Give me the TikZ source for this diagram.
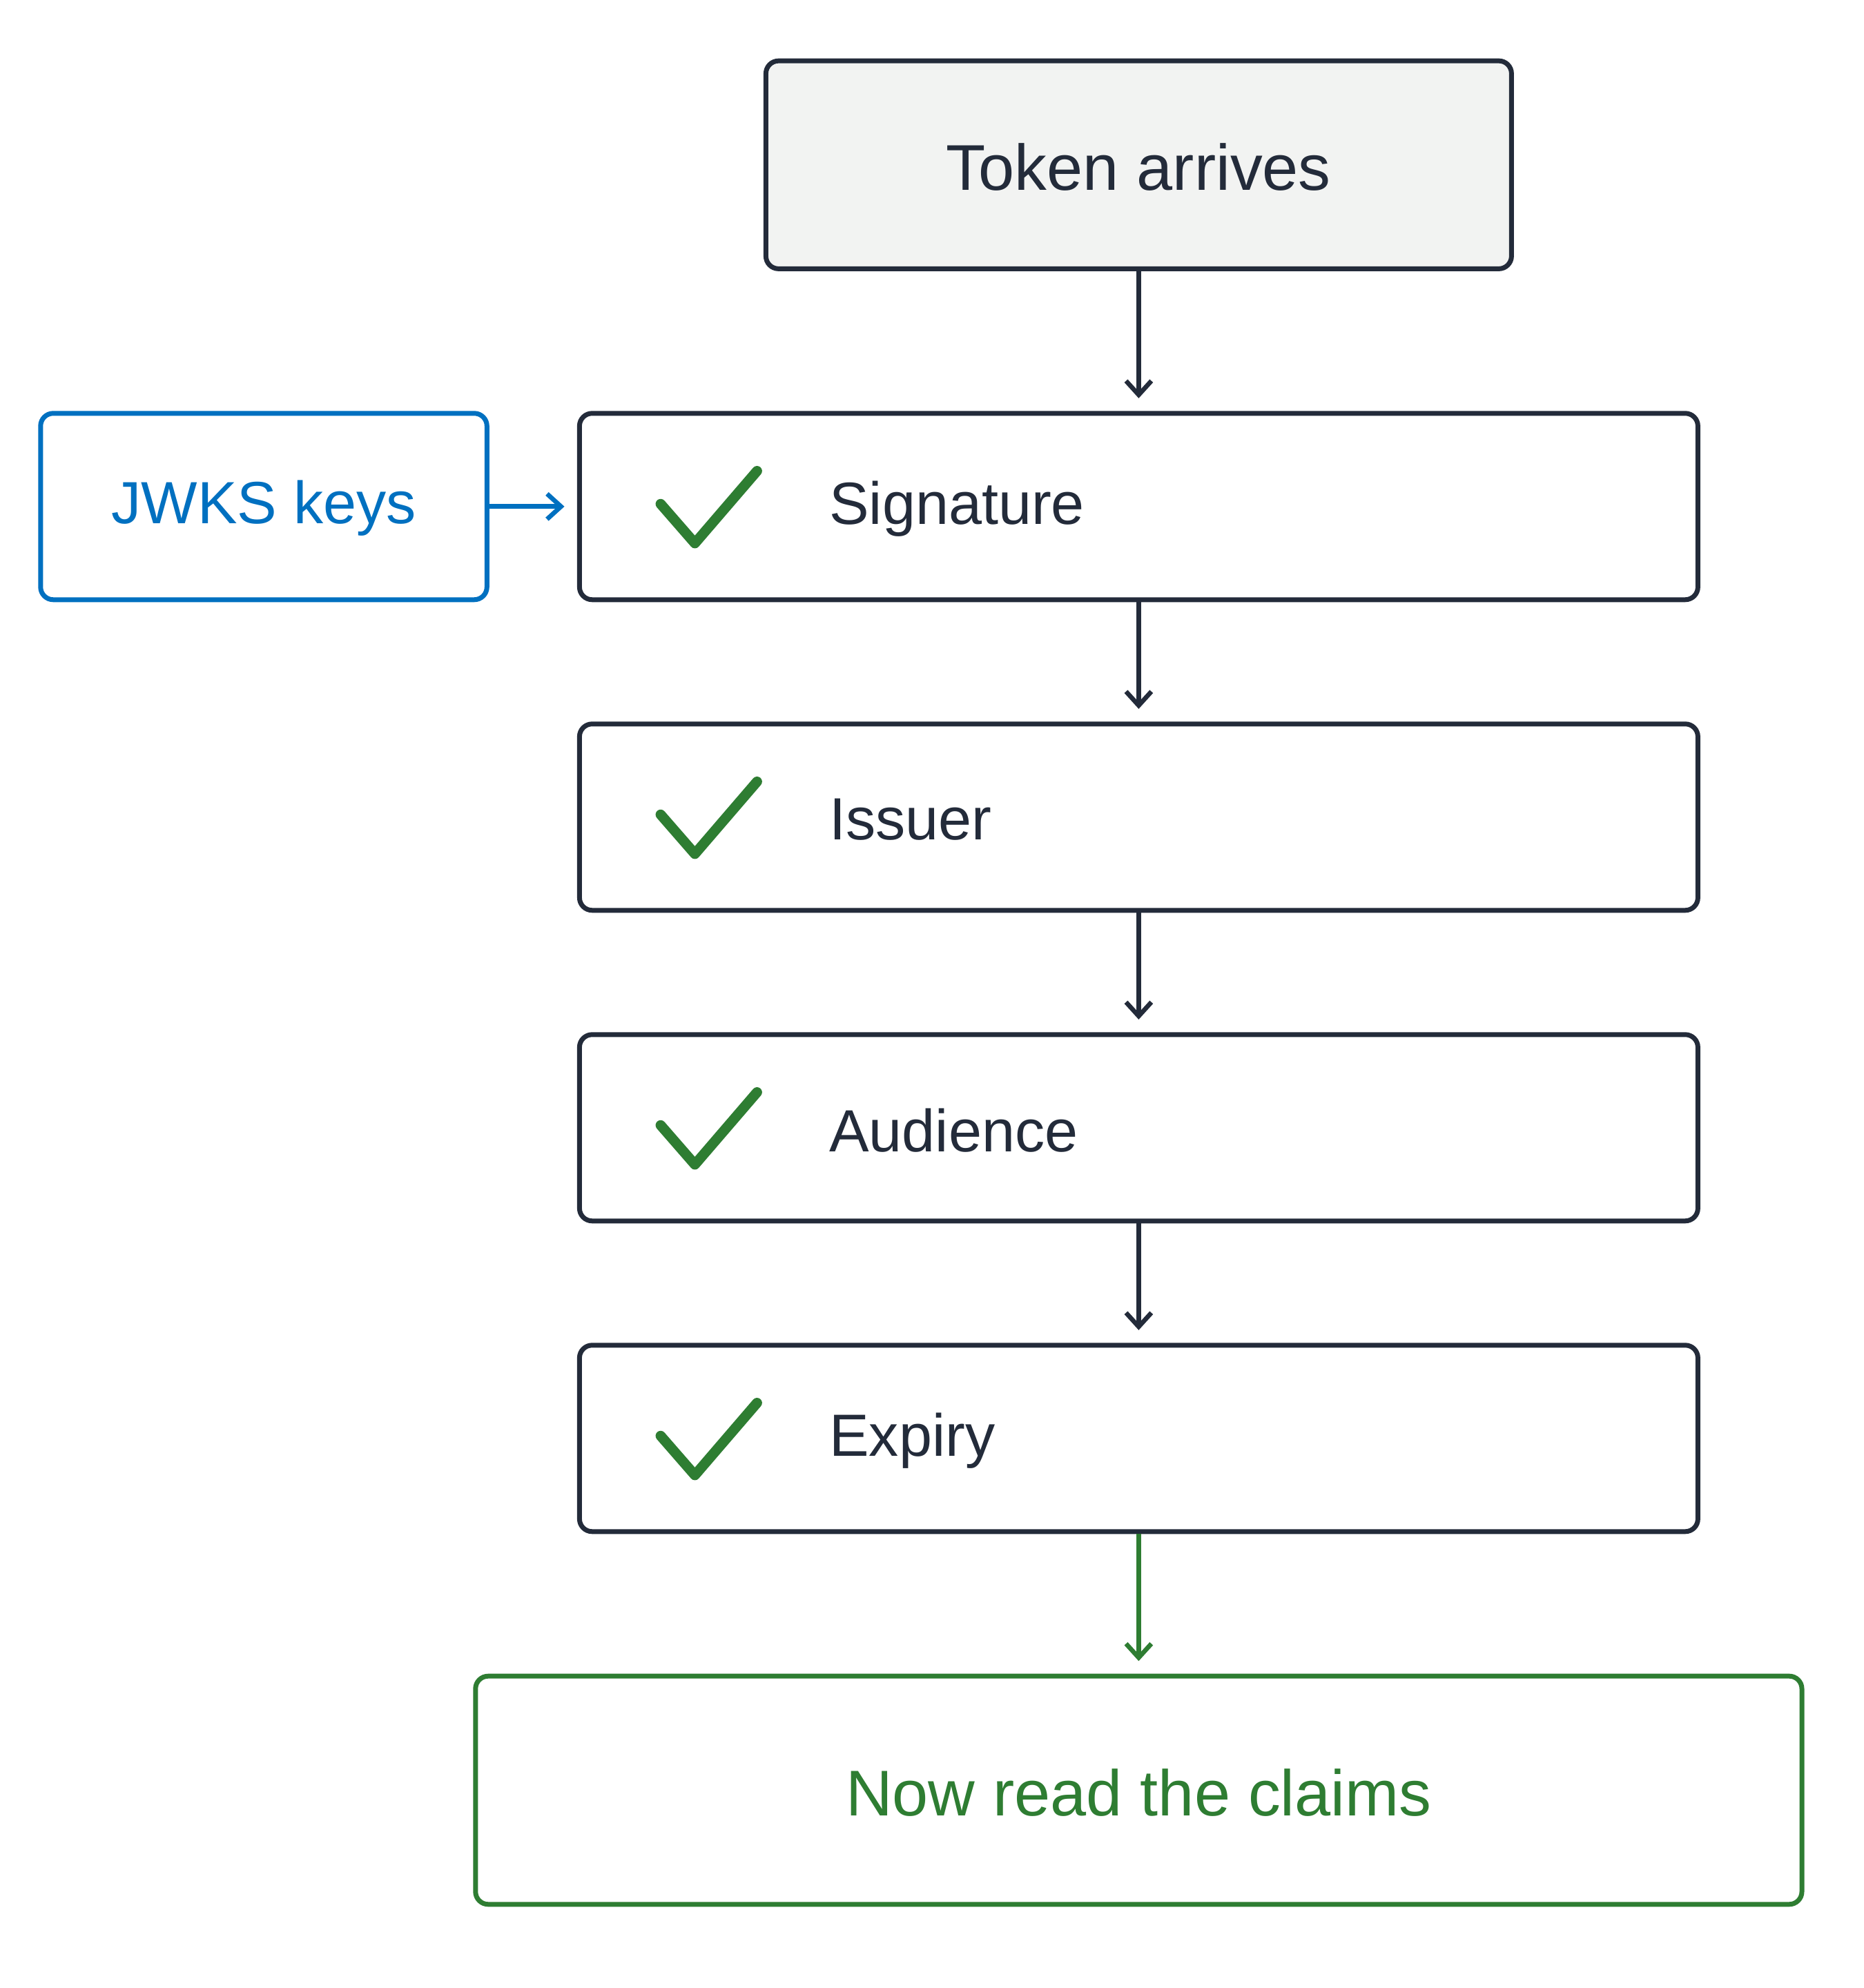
\documentclass[tikz,border=0pt]{standalone}
\usepackage{fontspec}
\setmainfont{Liberation Sans}
\usetikzlibrary{arrows.meta}
\definecolor{ink}{HTML}{232B3A}
\definecolor{okg}{HTML}{2E7D32}
\definecolor{keyb}{HTML}{0070C0}
\definecolor{pale}{HTML}{F2F3F2}
\begin{document}
\begin{tikzpicture}[x=0.5pt,y=-0.5pt,
  box/.style={draw=ink,line width=1.9pt,rounded corners=5pt,inner sep=0pt},
  lab/.style={font=\fontsize{23.5}{27}\selectfont,text=ink,anchor=west},
  arr/.style={-{Straight Barb[length=5.5pt,width=10pt]},line width=1.8pt,draw=ink},
  chk/.style={draw=okg,line width=4pt,line cap=round,line join=round}]
\useasboundingbox (0,0) rectangle (1470,1568);
\node[box,fill=pale,minimum width=294pt,minimum height=82pt] (tok) at (898,130) {};
\node[font=\fontsize{25.5}{30}\selectfont,text=ink] (tokl) at (898,132) {Token arrives};
\foreach \n/\y/\t in {sig/399.5/Signature,iss/644.5/Issuer,aud/889.5/Audience,exp/1134.5/Expiry}{
  \node[box,minimum width=441pt,minimum height=73.5pt] (\n) at (898,\y) {};
  \node[lab] (\n l) at (647,\y+2) {\t};
  \draw[chk] (521,\y-2) -- (548,\y+29) -- (597,\y-28);
}
\node[box,draw=keyb,minimum width=176pt,minimum height=73.5pt] (jw) at (208,399.5) {};
\node[font=\fontsize{23.5}{27}\selectfont,text=keyb] (jwl) at (208,401) {JWKS keys};
\node[box,draw=okg,minimum width=523pt,minimum height=90pt] (now) at (898,1412) {};
\node[font=\fontsize{25.5}{30}\selectfont,text=okg] (nowl) at (898,1414) {Now read the claims};
\draw[arr] (tok.south) -- ([yshift=5pt]sig.north);
\draw[arr] (sig.south) -- ([yshift=5pt]iss.north);
\draw[arr] (iss.south) -- ([yshift=5pt]aud.north);
\draw[arr] (aud.south) -- ([yshift=5pt]exp.north);
\draw[arr,draw=okg] (exp.south) -- ([yshift=5pt]now.north);
\draw[arr,draw=keyb] (jw.east) -- ([xshift=-5pt]sig.west);
\end{tikzpicture}
\end{document}
